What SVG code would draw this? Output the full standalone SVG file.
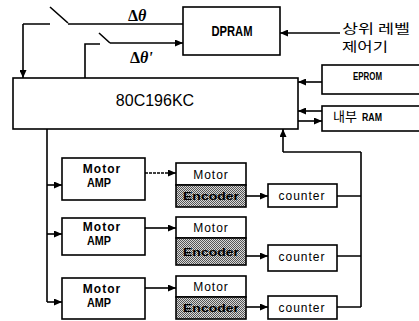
<svg xmlns="http://www.w3.org/2000/svg" width="419" height="321" viewBox="0 0 419 321">
<style>
.box{fill:#fff;stroke:#000;stroke-width:1.6}
.ln{fill:none;stroke:#000;stroke-width:1.6}
.t{font-family:"Liberation Sans",Arial,sans-serif;fill:#000}
.cond{font-family:"Liberation Sans Narrow","Liberation Sans",Arial,sans-serif;font-weight:bold}
.m{font-size:12px;letter-spacing:1px}
.e{font-size:11px;font-weight:bold}
.k{font-family:"Noto Sans CJK KR","Liberation Sans",sans-serif;font-size:13px}
.enc{fill:url(#dots);stroke:#000;stroke-width:1.6}
</style>
<defs>
<pattern id="dots" width="2" height="2" patternUnits="userSpaceOnUse">
<rect width="2" height="2" fill="#d8d8d8"/>
<rect width="1" height="1" fill="#555"/>
<rect x="1" y="1" width="1" height="1" fill="#555"/>
</pattern>
<marker id="ah" markerWidth="8" markerHeight="7" refX="8" refY="3.5" orient="auto" markerUnits="userSpaceOnUse">
<path d="M0,0 L8,3.5 L0,7 Z" fill="#000"/>
</marker>
</defs>

<g id="connectors">
<path class="ln" d="M23,24 H50 M50,7 L68,23 M68,24 H183"/>
<path class="ln" d="M23,24 V78" marker-end="url(#ah)"/>
<path class="ln" d="M85,78 V44 H100 M99,33 L110,43"/>
<path class="ln" d="M110,43 H183" marker-end="url(#ah)"/>
<path class="ln" d="M340,33 H280" marker-end="url(#ah)"/>
<path class="ln" d="M322,82 H298" marker-end="url(#ah)"/>
<path class="ln" d="M322,111 H298" marker-end="url(#ah)"/>
<path class="ln" d="M298,121 H322" marker-end="url(#ah)"/>
<path class="ln" d="M47,129 V302"/>
<path class="ln" d="M47,185 H62" marker-end="url(#ah)"/>
<path class="ln" d="M47,234 H62" marker-end="url(#ah)"/>
<path class="ln" d="M47,302 H62" marker-end="url(#ah)"/>
<path class="ln" d="M145,173 H176" stroke-dasharray="3,1" marker-end="url(#ah)"/>
<path class="ln" d="M145,228 H176" marker-end="url(#ah)"/>
<path class="ln" d="M145,288 H176" marker-end="url(#ah)"/>
<path class="ln" d="M246,196 H268" marker-end="url(#ah)"/>
<path class="ln" d="M246,256 H268" marker-end="url(#ah)"/>
<path class="ln" d="M246,307 H268" marker-end="url(#ah)"/>
<path class="ln" d="M337,196 H361 M337,256 H361 M337,307 H361 M361,152 V307 M361,152 H283"/>
<path class="ln" d="M283,152 V129" marker-end="url(#ah)"/>
</g>

<g id="dtheta">
<text x="128" y="21" font-family="'Liberation Serif',serif" font-size="16" font-weight="bold">Δ<tspan font-style="italic">θ</tspan></text>
<text x="130" y="63" font-family="'Liberation Serif',serif" font-size="16" font-weight="bold">Δ<tspan font-style="italic">θ'</tspan></text>
</g>

<g id="dpram">
<rect class="box" x="183" y="7" width="97" height="48"/>
<text class="t cond" x="232" y="36" font-size="14" text-anchor="middle" textLength="41" lengthAdjust="spacingAndGlyphs">DPRAM</text>
</g>

<g id="upper">
<text class="t k" x="342" y="33" textLength="68" lengthAdjust="spacingAndGlyphs">상위 레벨</text>
<text class="t k" x="342" y="51" textLength="46" lengthAdjust="spacingAndGlyphs">제어기</text>
</g>

<g id="cpu">
<rect class="box" x="13" y="78" width="285" height="51"/>
<text class="t" x="155" y="106" font-size="16" text-anchor="middle">80C196KC</text>
</g>

<g id="eprom">
<rect class="box" x="322" y="65" width="100" height="29"/>
<text class="t cond" x="353" y="80" font-size="11" textLength="29" lengthAdjust="spacingAndGlyphs">EPROM</text>
</g>

<g id="ram">
<rect class="box" x="322" y="106" width="100" height="25"/>
<text class="t k" x="333" y="121" font-size="11" textLength="24" lengthAdjust="spacingAndGlyphs">내부</text>
<text class="t cond" x="362" y="121" font-size="11" textLength="20" lengthAdjust="spacingAndGlyphs">RAM</text>
</g>

<g id="amp1">
<rect class="box" x="62" y="158" width="83" height="42"/>
<text class="t m" x="102" y="173" text-anchor="middle" font-weight="bold" font-size="12">Motor</text>
<text class="t cond" x="99" y="187" text-anchor="middle" font-size="12" textLength="24" lengthAdjust="spacingAndGlyphs">AMP</text>
</g>
<g id="amp2">
<rect class="box" x="62" y="218" width="83" height="37"/>
<text class="t m" x="102" y="231" text-anchor="middle" font-weight="bold" font-size="12">Motor</text>
<text class="t cond" x="99" y="245" text-anchor="middle" font-size="12" textLength="24" lengthAdjust="spacingAndGlyphs">AMP</text>
</g>
<g id="amp3">
<rect class="box" x="62" y="278" width="83" height="41"/>
<text class="t m" x="102" y="293" text-anchor="middle" font-weight="bold" font-size="12">Motor</text>
<text class="t cond" x="99" y="307" text-anchor="middle" font-size="12" textLength="24" lengthAdjust="spacingAndGlyphs">AMP</text>
</g>

<g id="motor1">
<rect class="box" x="176" y="163" width="70" height="22"/>
<rect class="enc" x="176" y="185" width="70" height="22"/>
<text class="t m" x="211" y="179" text-anchor="middle">Motor</text>
<text class="t e" x="211" y="200" text-anchor="middle" textLength="56" lengthAdjust="spacingAndGlyphs">Encoder</text>
</g>
<g id="motor2">
<rect class="box" x="176" y="217" width="70" height="21"/>
<rect class="enc" x="176" y="238" width="70" height="27"/>
<text class="t m" x="211" y="232" text-anchor="middle">Motor</text>
<text class="t e" x="211" y="256" text-anchor="middle" textLength="56" lengthAdjust="spacingAndGlyphs">Encoder</text>
</g>
<g id="motor3">
<rect class="box" x="176" y="276" width="70" height="21"/>
<rect class="enc" x="176" y="297" width="70" height="22"/>
<text class="t m" x="211" y="291" text-anchor="middle">Motor</text>
<text class="t e" x="211" y="312" text-anchor="middle" textLength="56" lengthAdjust="spacingAndGlyphs">Encoder</text>
</g>

<g id="counter1">
<rect class="box" x="268" y="184" width="69" height="23"/>
<text class="t m" x="302" y="200" text-anchor="middle">counter</text>
</g>
<g id="counter2">
<rect class="box" x="268" y="245" width="69" height="26"/>
<text class="t m" x="302" y="261" text-anchor="middle">counter</text>
</g>
<g id="counter3">
<rect class="box" x="268" y="296" width="69" height="23"/>
<text class="t m" x="302" y="312" text-anchor="middle">counter</text>
</g>
</svg>
